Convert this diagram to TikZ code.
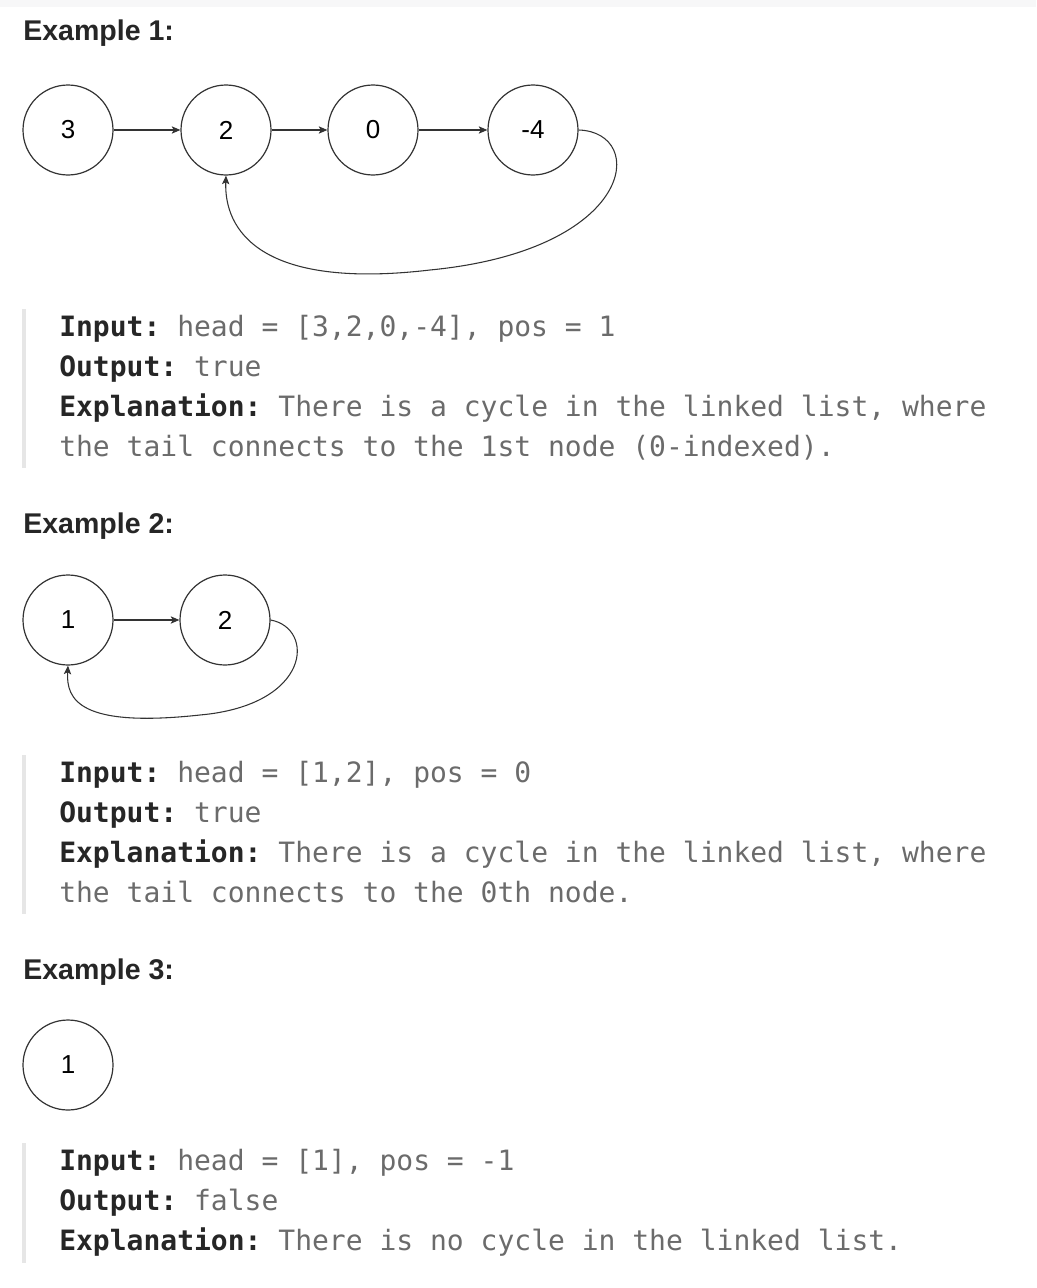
\documentclass[tikz,border=0pt]{standalone}
\usepackage{fontspec}
\setmainfont{Liberation Sans}
\newfontfamily\monof{DejaVu Sans Mono}
\usetikzlibrary{arrows.meta}
\definecolor{txt}{HTML}{262626}
\definecolor{val}{HTML}{6B6B6B}
\definecolor{qbar}{HTML}{E6E6E6}
\definecolor{band}{HTML}{F7F7F8}
\definecolor{edgec}{HTML}{333333}
\newcommand{\lbl}[1]{{\bfseries\color{txt}#1}}
\frenchspacing
\begin{document}
\begin{tikzpicture}[x=0.75pt,y=-0.75pt,
  listnode/.style={circle,draw=edgec,line width=0.9pt,minimum size=67.5pt,inner sep=0pt,
    font=\fontsize{19.5}{19.5}\selectfont,text=black},
  link/.style={draw=edgec,line width=0.8pt,-{Stealth[length=6.5pt,width=5.5pt,inset=1.5pt]}},
  heading/.style={anchor=base west,inner sep=0pt,font=\fontsize{21.4}{24}\selectfont\bfseries,text=txt},
  codeline/.style={anchor=base west,inner sep=0pt,font=\monof\fontsize{21}{24}\selectfont\frenchspacing,text=val},
  quotebar/.style={fill=qbar,draw=none}]
\useasboundingbox (0,0) rectangle (1036,1288);
\fill[band] (0,0) rectangle (1036,7);

% ---------- Example 1 ----------
\node[heading] (h1) at (23,41) {Example 1:};
\node[listnode] (a3) at (68,130) {3};
\node[listnode] (a2) at (226,130) {2};
\node[listnode] (a0) at (373,130) {0};
\node[listnode] (a4) at (533,130) {-4};
\draw[link] (a3) -- (a2);
\draw[link] (a2) -- (a0);
\draw[link] (a0) -- (a4);
\draw[link] (a4.east) .. controls (648,132) and (636,250) .. (430,270)
  .. controls (260,290) and (224,230) .. (a2.south);

\fill[quotebar] (22,309) rectangle (26,468);
\node[codeline] (in1) at (59,336) {\lbl{Input:} head = [3,2,0,-4], pos = 1};
\node[codeline] (out1) at (59,376) {\lbl{Output:} true};
\node[codeline] (ex1a) at (59,416) {\lbl{Explanation:} There is a cycle in the linked list, where};
\node[codeline] (ex1b) at (59,456) {the tail connects to the 1st node (0-indexed).};

% ---------- Example 2 ----------
\node[heading] (h2) at (23,533) {Example 2:};
\node[listnode] (b1) at (68,620) {1};
\node[listnode] (b2) at (225,620) {2};
\draw[link] (b1) -- (b2);
\draw[link] (b2.east) .. controls (315,628) and (312,705) .. (200,715)
  .. controls (80,728) and (66,700) .. (b1.south);

\fill[quotebar] (22,755) rectangle (26,914);
\node[codeline] (in2) at (59,782) {\lbl{Input:} head = [1,2], pos = 0};
\node[codeline] (out2) at (59,822) {\lbl{Output:} true};
\node[codeline] (ex2a) at (59,862) {\lbl{Explanation:} There is a cycle in the linked list, where};
\node[codeline] (ex2b) at (59,902) {the tail connects to the 0th node.};

% ---------- Example 3 ----------
\node[heading] (h3) at (23,979) {Example 3:};
\node[listnode] (c1) at (68,1065) {1};

\fill[quotebar] (22,1143) rectangle (26,1263);
\node[codeline] (in3) at (59,1170) {\lbl{Input:} head = [1], pos = -1};
\node[codeline] (out3) at (59,1210) {\lbl{Output:} false};
\node[codeline] (ex3a) at (59,1250) {\lbl{Explanation:} There is no cycle in the linked list.};
\end{tikzpicture}
\end{document}
